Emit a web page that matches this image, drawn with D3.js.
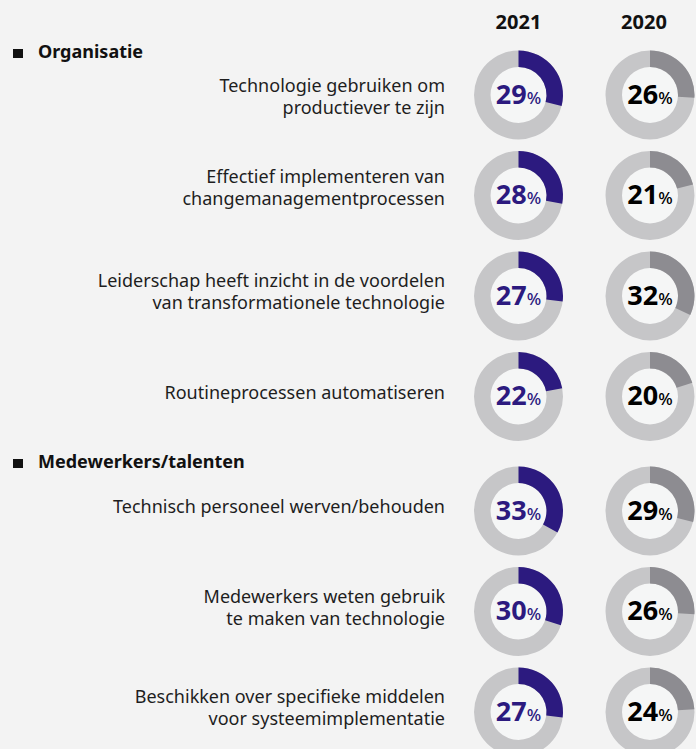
<!DOCTYPE html>
<html>
<head>
<meta charset="utf-8">
<script src="https://cdn.jsdelivr.net/npm/d3@7"></script>
<style>
  html, body { margin: 0; padding: 0; background: #f3f3f3; }
  svg { display: block; font-family: "Noto Sans", "Open Sans", sans-serif; }
</style>
</head>
<body>
<svg id="chart" width="696" height="749"></svg>
<script>
// data
var years = ["2021", "2020"]
var groups = ["Organisatie", "Medewerkers/talenten"]
var rowGroup = [0, 0, 0, 0, 1, 1, 1]
var labels = [
    ["Technologie gebruiken om", "productiever te zijn"],
    ["Effectief implementeren van", "changemanagementprocessen"],
    ["Leiderschap heeft inzicht in de voordelen", "van transformationele technologie"],
    ["Routineprocessen automatiseren"],
    ["Technisch personeel werven/behouden"],
    ["Medewerkers weten gebruik", "te maken van technologie"],
    ["Beschikken over specifieke middelen", "voor systeemimplementatie"]
]
var values2021 = [29, 28, 27, 22, 33, 30, 27]
var values2020 = [26, 21, 32, 20, 29, 26, 24]

var svg = d3.select('#chart')
var colX = [518.5, 650]
var arcColor = ['#2c1a7f', '#8d8c91']
var numColor = ['#2c1a7f', '#000000']
// small vertical nudges of the label blocks, as in the original layout
var labelNudge = [6, -4, 0, 0, 0, 0, 0]

// row centres: fixed step, extra gap before each new group
function rowY(i) { return 95 + i * 100.5 + rowGroup[i] * 14 }

var pct = d3.scaleLinear().domain([0, 100]).range([0, 2 * Math.PI])
var ring = d3.arc().innerRadius(28).outerRadius(44.5).startAngle(0)

// year headers
svg.selectAll('text.year')
    .data(years)
    .enter()
    .append('text')
    .attr('class', 'year')
    .attr('x', function(d, i) { return colX[i] - i * 6 })
    .attr('y', 29)
    .attr('text-anchor', 'middle')
    .attr('font-size', 20)
    .attr('font-weight', 700)
    .attr('fill', '#111')
    .text(function(d) { return d })

// group headers
groups.forEach(function(g, gi) {
    var first = rowGroup.indexOf(gi)
    var y = rowY(first) - 37 - gi * 6
    svg.append('rect')
        .attr('x', 13).attr('y', y - 9)
        .attr('width', 10).attr('height', 9)
        .attr('fill', '#111')
    svg.append('text')
        .attr('x', 38).attr('y', y)
        .attr('font-size', 18)
        .attr('font-weight', 700)
        .attr('fill', '#111')
        .text(g)
})

// row labels
labels.forEach(function(lines, i) {
    var cy = rowY(i) + labelNudge[i]
    var t = svg.append('text')
        .attr('text-anchor', 'end')
        .attr('font-size', 18)
        .attr('font-weight', 400)
        .attr('fill', '#1e1e1e')
    var y0 = lines.length === 1 ? cy + 2 : cy - 9
    lines.forEach(function(l, k) {
        t.append('tspan')
            .attr('x', 445)
            .attr('y', y0 + k * 22)
            .text(l)
    })
})

// donuts
var series = [values2021, values2020]
series.forEach(function(vals, s) {
    var cells = svg.selectAll('g.c' + s)
        .data(vals)
        .enter()
        .append('g')
        .attr('class', 'c' + s)
        .attr('transform', function(d, i) { return 'translate(' + colX[s] + ',' + rowY(i) + ')' })
    cells.append('circle')
        .attr('r', 28)
        .attr('fill', '#f5f6f6')
    cells.append('path')
        .attr('d', ring.endAngle(2 * Math.PI)())
        .attr('fill', '#c6c6c8')
    cells.append('path')
        .attr('d', function(d) { return ring.endAngle(pct(d))() })
        .attr('fill', arcColor[s])
    var t = cells.append('text')
        .attr('text-anchor', 'middle')
        .attr('y', 8.5)
        .attr('fill', numColor[s])
    t.append('tspan')
        .attr('font-size', 27)
        .attr('font-weight', 700)
        .text(function(d) { return d })
    t.append('tspan')
        .attr('font-size', 17)
        .attr('font-weight', 500)
        .text('%')
})
</script>
</body>
</html>
